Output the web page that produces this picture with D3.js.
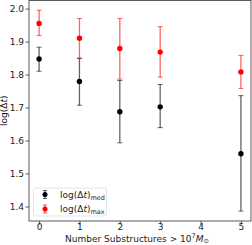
<!DOCTYPE html>
<html><head><meta charset="utf-8">
<script src="https://cdn.jsdelivr.net/npm/d3@7"></script>
<style>body{margin:0;background:#fff}svg{display:block;font-family:"DejaVu Sans",sans-serif}</style>
</head><body>
<script>
const xs = [0, 1, 2, 3, 5];
const medVal = [1.847, 1.779, 1.687, 1.702, 1.560];
const medLo = [1.810, 1.707, 1.593, 1.639, 1.386];
const medHi = [1.883, 1.849, 1.782, 1.770, 1.736];
const maxVal = [1.955, 1.910, 1.879, 1.868, 1.808];
const maxLo = [1.918, 1.850, 1.786, 1.792, 1.758];
const maxHi = [1.995, 1.970, 1.970, 1.945, 1.858];
const xTicks = [0, 1, 2, 3, 4, 5];
const yTicks = [1.4, 1.5, 1.6, 1.7, 1.8, 1.9, 2.0];

const W = 252, H = 245;
const L = 29, R = 251, T = 0.5, B = 221;
const svg = d3.select("body").append("svg").attr("width", W).attr("height", H);
const x = d3.scaleLinear().domain([-0.25, 5.25]).range([L, R]);
const y = d3.scaleLinear().domain([1.356, 2.0245]).range([B, T]);

function series(vals, lo, hi, color) {
  const g = svg.append("g");
  xs.forEach((xv, i) => {
    const cx = x(xv);
    g.append("line").attr("x1", cx).attr("x2", cx).attr("y1", y(lo[i])).attr("y2", y(hi[i]))
      .attr("stroke", color).attr("stroke-width", 1.3).attr("opacity", 0.6);
    [lo[i], hi[i]].forEach(v => g.append("line").attr("x1", cx - 2.5).attr("x2", cx + 2.5)
      .attr("y1", y(v)).attr("y2", y(v)).attr("stroke", color).attr("stroke-width", 1).attr("opacity", 0.6));
    g.append("circle").attr("cx", cx).attr("cy", y(vals[i])).attr("r", 2.7).attr("fill", color);
  });
}
series(medVal, medLo, medHi, "#000");
series(maxVal, maxLo, maxHi, "#ff0000");

const xa = svg.append("g").attr("transform", `translate(0,${B})`)
  .call(d3.axisBottom(x).tickValues(xTicks).tickFormat(d3.format("d")).tickSize(3.5).tickSizeOuter(0));
const ya = svg.append("g").attr("transform", `translate(${L},0)`)
  .call(d3.axisLeft(y).tickValues(yTicks).tickFormat(d3.format(".1f")).tickSize(3.5).tickSizeOuter(0));
[xa, ya].forEach(a => {
  a.select(".domain").remove();
  a.selectAll("text").attr("font-size", 9).attr("fill", "#222").style("font-family", "DejaVu Sans");
  a.selectAll("line").attr("stroke", "#333").attr("stroke-width", 0.8);
});
xa.selectAll("text").attr("dy", "0.71em").attr("y", 2.5);
ya.selectAll("text").attr("x", -5);

svg.append("rect").attr("x", L).attr("y", T).attr("width", R - L).attr("height", B - T)
  .attr("fill", "none").attr("stroke", "#333").attr("stroke-width", 0.8);

svg.append("text").attr("x", (L + R) / 2 - 3).attr("y", 241.5).attr("text-anchor", "middle")
  .attr("font-size", 9).attr("fill", "#222")
  .html('Number Substructures &gt; 10<tspan font-size="6.5" dy="-3.5">7</tspan><tspan dy="3.5" font-style="italic">M</tspan><tspan font-size="6.5" dy="1.5">⊙</tspan>');

svg.append("text").attr("transform", `translate(7,${(T + B) / 2}) rotate(-90)`).attr("text-anchor", "middle")
  .attr("font-size", 9).attr("fill", "#222")
  .html('log(Δ<tspan font-style="italic">t</tspan>)');

// legend
const lg = svg.append("g");
lg.append("rect").attr("x", 33.5).attr("y", 188).attr("width", 73).attr("height", 28).attr("rx", 2)
  .attr("fill", "#fff").attr("stroke", "#ddd").attr("stroke-width", 0.8);
const entries = [{c: "#000", sub: "med", yy: 194.5}, {c: "#ff0000", sub: "max", yy: 209}];
entries.forEach(e => {
  lg.append("line").attr("x1", 45).attr("x2", 45).attr("y1", e.yy - 4).attr("y2", e.yy + 4)
    .attr("stroke", e.c).attr("stroke-width", 1.3).attr("opacity", 0.6);
  [e.yy - 4, e.yy + 4].forEach(v => lg.append("line").attr("x1", 43).attr("x2", 47).attr("y1", v).attr("y2", v)
    .attr("stroke", e.c).attr("stroke-width", 1).attr("opacity", 0.6));
  lg.append("circle").attr("cx", 45).attr("cy", e.yy).attr("r", 2.5).attr("fill", e.c);
  lg.append("text").attr("x", 60).attr("y", e.yy + 3).attr("font-size", 9).attr("fill", "#222")
    .html(`log(Δ<tspan font-style="italic">t</tspan>)<tspan font-size="6.5" dy="2">${e.sub}</tspan>`);
});
</script>
</body></html>
